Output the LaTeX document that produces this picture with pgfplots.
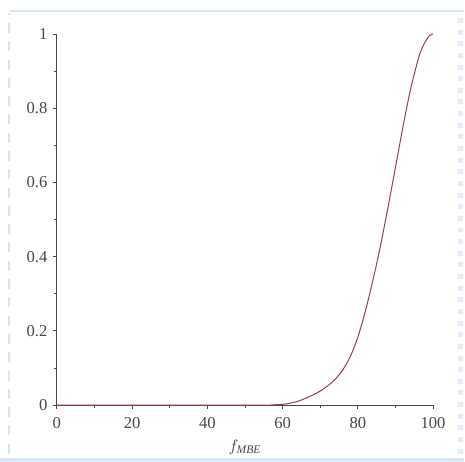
\documentclass[border=0pt]{standalone}
\usepackage{fontspec}
\setmainfont{Liberation Serif}
\usepackage{pgfplots}
\pgfplotsset{compat=1.18}

\definecolor{curve}{RGB}{150,60,85}
\definecolor{frame}{RGB}{215,230,245}
\definecolor{txt}{RGB}{70,70,70}

\begin{document}
\begin{tikzpicture}
% page 465 x 463 px, 1 px = 0.6pt
\path (0pt,0pt) rectangle (279pt,277.8pt);
% light frame round the plot
\draw[frame,line width=1.2pt] (6pt,271.2pt) -- (279pt,271.2pt);
\fill[frame] (0pt,0pt) rectangle (279pt,2.4pt);
\draw[frame,line width=1.5pt,dash pattern=on 6pt off 5pt] (5.4pt,5pt) -- (5.4pt,270pt);
\draw[frame!70,line width=3pt,dash pattern=on 3pt off 4pt] (276.6pt,5pt) -- (276.6pt,270pt);
\begin{axis}[
    at={(34.2pt,34.2pt)}, anchor=south west,
    scale only axis,
    width=226.2pt, height=223.2pt,
    xmin=0, xmax=100, ymin=0, ymax=1,
    axis lines=left,
    axis line style={-, txt, line width=0.5pt},
    xtick={0,20,...,100}, minor xtick={10,30,...,90},
    ytick={0,0.2,...,1}, minor ytick={0.1,0.3,...,0.9},
    yticklabels={0,0.2,0.4,0.6,0.8,1},
    tick align=outside,
    major tick length=2.2pt, minor tick length=1.6pt,
    tick style={txt, line width=0.5pt},
    ticklabel style={font=\fontsize{10}{12}\selectfont, text=txt},
    xticklabel style={yshift=-1.5pt},
    /pgf/number format/assume math mode=true,
    xlabel={$f_{\mathit{MBE}}$},
    xlabel style={font=\fontsize{10}{12}\selectfont, text=txt, yshift=0pt},
    clip=false,
]
\addplot[curve, line width=0.6pt, smooth] coordinates {
    (0,0) (20,0) (40,0) (50,0) (56,0) (58,0.001) (60,0.002) (62,0.005)
    (64,0.01) (66,0.018) (68,0.027) (70,0.038) (72,0.052) (74,0.070)
    (76,0.095) (78,0.131) (80,0.183) (82,0.253) (84,0.336) (86,0.428)
    (88,0.532) (90,0.640) (92,0.750) (94,0.850) (96,0.930) (97,0.96)
    (98,0.980) (99,0.995) (100,1)
};
\end{axis}
\end{tikzpicture}
\end{document}
